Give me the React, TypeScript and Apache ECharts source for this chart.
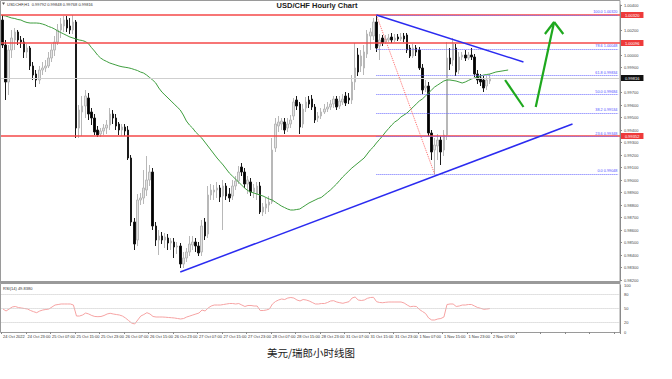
import React, { useEffect, useRef } from 'react';
import * as echarts from 'echarts';

// ---------- DATA ----------
const opens = [
  1.00280, 1.00080, 0.99784, 1.00040, 1.00120, 1.00184, 1.00120, 1.00104, 1.00024, 1.00056,
  0.99912, 0.99848, 0.99800, 0.99880, 0.99896, 0.99912, 0.99976, 1.00040, 1.00104, 1.00200,
  1.00232, 1.00280, 1.00232, 1.00200, 1.00264, 0.99416, 0.99544, 0.99592, 0.99656, 0.99544,
  0.99496, 0.99400, 0.99368, 0.99392, 0.99416, 0.99440, 0.99528, 0.99496, 0.99448, 0.99400,
  0.99424, 0.99400, 0.99176, 0.98664, 0.98520, 0.98840, 0.98856, 0.98920, 0.99000, 0.99064,
  0.98632, 0.98520, 0.98552, 0.98520, 0.98536, 0.98496, 0.98504, 0.98464, 0.98472, 0.98328,
  0.98376, 0.98424, 0.98480, 0.98504, 0.98472, 0.98424, 0.98664, 0.98568, 0.98880, 0.98904,
  0.98920, 0.98936, 0.98872, 0.98952, 0.98888, 0.98872, 0.98952, 0.98992, 0.99104, 0.99064,
  0.98968, 0.98984, 0.98904, 0.98888, 0.98952, 0.98744, 0.98776, 0.98800, 0.98824, 0.99256,
  0.99432, 0.99448, 0.99464, 0.99416, 0.99448, 0.99512, 0.99640, 0.99608, 0.99448, 0.99576,
  0.99640, 0.99648, 0.99584, 0.99496, 0.99512, 0.99544, 0.99568, 0.99584, 0.99608, 0.99648,
  0.99592, 0.99624, 0.99672, 0.99656, 0.99640, 0.99784, 1.00000, 0.99912, 0.99896, 1.00008,
  1.00152, 1.00152, 1.00264, 1.00072, 1.00136, 1.00104, 1.00120, 1.00144, 1.00120, 1.00144,
  1.00128, 1.00152, 1.00160, 1.00056, 0.99992, 1.00056, 1.00040, 0.99896, 0.99736, 0.99752,
  0.99376, 0.99240, 0.99272, 0.99320, 0.99240, 0.99360, 0.99976, 0.99960, 1.00056, 0.99880,
  0.99984, 1.00000, 0.99976, 1.00000, 0.99984, 0.99848, 0.99816, 0.99800, 0.99752, 0.99792,
];
const closes = [
  1.00080, 0.99784, 1.00040, 1.00136, 1.00184, 1.00120, 1.00104, 1.00024, 1.00056, 0.99912,
  0.99840, 0.99800, 0.99880, 0.99896, 0.99912, 0.99976, 1.00040, 1.00104, 1.00200, 1.00248,
  1.00280, 1.00216, 1.00200, 1.00264, 0.99416, 0.99560, 0.99592, 0.99672, 0.99528, 0.99496,
  0.99384, 0.99360, 0.99392, 0.99416, 0.99440, 0.99528, 0.99496, 0.99432, 0.99400, 0.99424,
  0.99392, 0.99176, 0.98664, 0.98488, 0.98840, 0.98856, 0.98936, 0.99000, 0.99064, 0.98632,
  0.98520, 0.98552, 0.98520, 0.98544, 0.98496, 0.98512, 0.98464, 0.98472, 0.98328, 0.98376,
  0.98424, 0.98488, 0.98504, 0.98472, 0.98416, 0.98632, 0.98552, 0.98880, 0.98920, 0.98920,
  0.98936, 0.98864, 0.98952, 0.98872, 0.98856, 0.98952, 0.98992, 0.99064, 0.99064, 0.98968,
  0.99000, 0.98904, 0.98936, 0.98952, 0.98744, 0.98784, 0.98808, 0.98824, 0.99240, 0.99448,
  0.99464, 0.99472, 0.99400, 0.99448, 0.99480, 0.99624, 0.99592, 0.99424, 0.99568, 0.99624,
  0.99608, 0.99584, 0.99480, 0.99512, 0.99544, 0.99568, 0.99584, 0.99608, 0.99648, 0.99584,
  0.99632, 0.99648, 0.99616, 0.99640, 0.99784, 0.99896, 0.99864, 0.99992, 1.00024, 1.00168,
  1.00184, 1.00264, 1.00056, 1.00120, 1.00096, 1.00128, 1.00136, 1.00120, 1.00136, 1.00128,
  1.00144, 1.00128, 1.00040, 0.99992, 1.00056, 1.00024, 0.99896, 0.99720, 0.99752, 0.99376,
  0.99224, 0.99280, 0.99320, 0.99224, 0.99360, 0.99976, 0.99928, 1.00088, 0.99864, 0.99984,
  1.00000, 0.99976, 1.00000, 0.99984, 0.99848, 0.99800, 0.99784, 0.99736, 0.99800, 0.99816,
];
const lows = [
  1.00056, 0.99640, 0.99680, 0.99976, 1.00040, 1.00080, 1.00056, 0.99976, 0.99976, 0.99880,
  0.99800, 0.99744, 0.99768, 0.99840, 0.99864, 0.99896, 0.99944, 0.99992, 1.00080, 1.00136,
  1.00184, 1.00184, 1.00168, 1.00168, 0.99336, 0.99336, 0.99352, 0.99496, 0.99480, 0.99440,
  0.99360, 0.99344, 0.99344, 0.99360, 0.99368, 0.99400, 0.99448, 0.99400, 0.99360, 0.99352,
  0.99352, 0.99160, 0.98632, 0.98440, 0.98472, 0.98800, 0.98808, 0.98872, 0.98952, 0.98600,
  0.98472, 0.98400, 0.98488, 0.98456, 0.98440, 0.98440, 0.98376, 0.98408, 0.98296, 0.98296,
  0.98344, 0.98392, 0.98440, 0.98424, 0.98392, 0.98392, 0.98520, 0.98536, 0.98840, 0.98840,
  0.98856, 0.98824, 0.98600, 0.98840, 0.98824, 0.98840, 0.98920, 0.98968, 0.99032, 0.98936,
  0.98888, 0.98872, 0.98856, 0.98840, 0.98728, 0.98712, 0.98728, 0.98744, 0.98808, 0.99224,
  0.99384, 0.99400, 0.99368, 0.99384, 0.99416, 0.99480, 0.99560, 0.99368, 0.99416, 0.99544,
  0.99576, 0.99560, 0.99456, 0.99464, 0.99488, 0.99528, 0.99544, 0.99560, 0.99576, 0.99560,
  0.99568, 0.99600, 0.99592, 0.99608, 0.99608, 0.99720, 0.99832, 0.99864, 0.99840, 0.99976,
  1.00040, 1.00120, 1.00024, 0.99960, 1.00072, 1.00088, 1.00104, 1.00096, 1.00104, 1.00112,
  1.00112, 1.00104, 1.00016, 0.99976, 0.99976, 0.99992, 0.99880, 0.99688, 0.99704, 0.99352,
  0.99160, 0.99048, 0.99160, 0.99120, 0.99192, 0.99320, 0.99880, 0.99912, 0.99832, 0.99848,
  0.99960, 0.99952, 0.99960, 0.99960, 0.99824, 0.99768, 0.99752, 0.99704, 0.99720, 0.99768,
];
const highs = [
  1.00320, 1.00120, 1.00080, 1.00200, 1.00216, 1.00200, 1.00152, 1.00136, 1.00088, 1.00072,
  0.99944, 0.99880, 0.99912, 0.99944, 0.99960, 1.00024, 1.00088, 1.00152, 1.00248, 1.00296,
  1.00312, 1.00312, 1.00296, 1.00320, 1.00280, 0.99600, 0.99672, 0.99720, 0.99696, 0.99576,
  0.99528, 0.99432, 0.99416, 0.99448, 0.99480, 0.99576, 0.99560, 0.99528, 0.99464, 0.99448,
  0.99448, 0.99432, 0.99200, 0.98696, 0.98888, 0.98896, 0.99080, 0.99192, 0.99120, 0.99096,
  0.98664, 0.98600, 0.98584, 0.98576, 0.98568, 0.98536, 0.98536, 0.98504, 0.98496, 0.98424,
  0.98456, 0.98552, 0.98552, 0.98536, 0.98504, 0.98680, 0.98696, 0.98952, 0.98968, 0.98960,
  0.98984, 0.98960, 0.99000, 0.98976, 0.98936, 0.99000, 0.99032, 0.99112, 0.99136, 0.99096,
  0.99032, 0.99016, 0.98968, 0.98984, 0.98984, 0.98816, 0.98856, 0.98872, 0.99336, 0.99496,
  0.99512, 0.99496, 0.99496, 0.99496, 0.99520, 0.99656, 0.99672, 0.99624, 0.99608, 0.99664,
  0.99672, 0.99680, 0.99608, 0.99544, 0.99576, 0.99608, 0.99624, 0.99640, 0.99672, 0.99672,
  0.99672, 0.99688, 0.99704, 0.99696, 0.99840, 1.00096, 1.00056, 1.00040, 1.00080, 1.00200,
  1.00216, 1.00296, 1.00320, 1.00168, 1.00160, 1.00160, 1.00168, 1.00176, 1.00168, 1.00168,
  1.00176, 1.00176, 1.00176, 1.00080, 1.00088, 1.00080, 1.00064, 0.99928, 0.99800, 0.99784,
  0.99400, 0.99336, 0.99368, 0.99352, 0.99400, 1.00104, 1.00056, 1.00136, 1.00088, 1.00024,
  1.00024, 1.00040, 1.00024, 1.00056, 1.00008, 0.99880, 0.99848, 0.99832, 0.99832, 0.99848,
];
// shifted moving average (green)
const maValues = [
  1.00316, 1.00312, 1.00304, 1.00296, 1.00292, 1.00284, 1.00280, 1.00268, 1.00260, 1.00256,
  1.00256, 1.00256, 1.00254, 1.00248, 1.00240, 1.00228, 1.00220, 1.00208, 1.00192, 1.00180,
  1.00168, 1.00156, 1.00144, 1.00136, 1.00128, 1.00120, 1.00116, 1.00108, 1.00092, 1.00060,
  1.00032, 1.00000, 0.99976, 0.99960, 0.99948, 0.99936, 0.99928, 0.99920, 0.99912, 0.99906,
  0.99902, 0.99898, 0.99892, 0.99884, 0.99876, 0.99864, 0.99856, 0.99840, 0.99820, 0.99800,
  0.99776, 0.99736, 0.99704, 0.99680, 0.99656, 0.99632, 0.99608, 0.99584, 0.99560, 0.99520,
  0.99472, 0.99440, 0.99416, 0.99384, 0.99360, 0.99336, 0.99304, 0.99272, 0.99240, 0.99208,
  0.99176, 0.99148, 0.99120, 0.99088, 0.99056, 0.99032, 0.99008, 0.98984, 0.98960, 0.98936,
  0.98916, 0.98904, 0.98896, 0.98888, 0.98880, 0.98872, 0.98860, 0.98848, 0.98840, 0.98824,
  0.98808, 0.98792, 0.98780, 0.98768, 0.98760, 0.98760, 0.98764, 0.98768, 0.98784, 0.98800,
  0.98816, 0.98828, 0.98840, 0.98852, 0.98860, 0.98880, 0.98900, 0.98920, 0.98944, 0.98968,
  0.98996, 0.99024, 0.99048, 0.99072, 0.99096, 0.99116, 0.99136, 0.99156, 0.99176, 0.99208,
  0.99240, 0.99264, 0.99296, 0.99324, 0.99352, 0.99384, 0.99412, 0.99440, 0.99464, 0.99480,
  0.99504, 0.99520, 0.99536, 0.99560, 0.99584, 0.99608, 0.99632, 0.99648, 0.99672, 0.99696,
  0.99720, 0.99744, 0.99760, 0.99776, 0.99792, 0.99800, 0.99800, 0.99796, 0.99792, 0.99784,
  0.99776, 0.99784, 0.99796, 0.99808, 0.99816, 0.99824, 0.99832, 0.99840, 0.99844, 0.99848,
  0.99856, 0.99864, 0.99868, 0.99872, 0.99876, 0.99880,
];
const rsiValues = [
  48.9, 44.7, 48.9, 53.2, 54.3, 52.1, 51.1, 50.0, 48.9, 45.7,
  43.2, 41.1, 44.7, 46.8, 47.9, 48.9, 53.2, 57.4, 58.5, 59.6,
  59.6, 59.6, 59.6, 57.4, 34.0, 34.0, 36.2, 40.4, 38.3, 35.1,
  33.0, 32.6, 33.0, 35.1, 38.3, 39.8, 38.3, 37.2, 36.2, 34.0,
  29.8, 24.5, 19.1, 17.0, 25.5, 34.0, 37.2, 41.1, 38.3, 33.0,
  31.9, 31.9, 31.9, 31.5, 30.9, 30.4, 29.8, 28.7, 27.7, 28.7,
  31.9, 34.0, 36.2, 38.3, 40.4, 46.8, 44.7, 51.1, 55.3, 57.4,
  57.4, 57.4, 58.5, 59.6, 60.6, 60.6, 59.6, 60.6, 57.4, 54.3,
  56.4, 56.4, 55.3, 55.3, 45.7, 45.7, 46.8, 48.9, 59.6, 64.9,
  68.1, 70.2, 69.1, 72.3, 73.4, 72.3, 68.1, 66.0, 69.1, 68.1,
  66.0, 62.8, 59.6, 59.6, 60.6, 60.6, 62.8, 66.0, 66.6, 63.8,
  62.3, 61.1, 62.8, 64.5, 72.3, 74.5, 68.1, 67.0, 68.1, 71.7,
  73.4, 73.8, 64.5, 62.8, 62.3, 63.2, 63.8, 63.8, 63.8, 63.8,
  63.8, 61.7, 57.4, 53.8, 54.7, 54.3, 47.9, 43.6, 39.4, 29.8,
  25.5, 25.5, 27.7, 28.7, 31.9, 58.5, 59.6, 59.6, 54.3, 55.3,
  57.4, 57.4, 58.5, 58.5, 55.3, 52.1, 50.4, 48.3, 48.9, 49.8,
];
const timeLabels = [
  '24 Oct 2022', '24 Oct 23:00', '25 Oct 07:00', '25 Oct 15:00', '25 Oct 23:00',
  '26 Oct 07:00', '26 Oct 15:00', '26 Oct 23:00', '27 Oct 07:00', '27 Oct 15:00',
  '27 Oct 23:00', '28 Oct 07:00', '28 Oct 15:00', '28 Oct 23:00', '31 Oct 07:00',
  '31 Oct 15:00', '31 Oct 23:00', '1 Nov 07:00', '1 Nov 15:00', '1 Nov 23:00', '2 Nov 07:00',
];
const barsPerLabel = 8;
const totalSlots = 202;

const redLevels = [1.00320, 1.00096, 0.99352];
const lastPrice = 0.99816;
const fibLevels = [100, 78.6, 61.8, 50, 38.2, 23.6, 0];
const fibPrices = [1.00320, 1.00048, 0.99834, 0.99684, 0.99534, 0.99348, 0.99048];
const fibHigh: [number, number] = [122, 1.00320];
const fibLow: [number, number] = [141, 0.99048];
const downTrend: [number, number][] = [[122, 1.00320], [170, 0.99944]];
const upTrend: [number, number][] = [[58, 0.98264], [186, 0.99448]];
const arrowDown: [number, number][] = [[164, 0.99800], [170, 0.99584]];
const arrowUp: [number, number][] = [[174, 0.99584], [180, 1.00264]];
const arrowHeadLeft: [number, number][] = [[177, 1.00168], [180, 1.00264]];
const arrowHeadRight: [number, number][] = [[180, 1.00264], [183, 1.00168]];
const rsiLevels = [80, 50, 20];
const rsiAxisLabels = [0, 20, 50, 80, 100];

export default function App() {
  const ref = useRef<HTMLDivElement>(null);

  useEffect(() => {
    if (!ref.current) return;
    const chart = echarts.init(ref.current, null, { renderer: 'svg' });

    const categories = Array.from({ length: totalSlots }, (_, i) => String(i));
    const candles = opens.map((o, i) => [o, closes[i], lows[i], highs[i]]);
    const font = 'Liberation Sans';
    const boxedLevels = redLevels.concat([lastPrice]);

    const seg = (a: [number, number], b: [number, number], color: string, width: number, type: string) => [
      { coord: a, lineStyle: { color, width, type } },
      { coord: b },
    ];

    const markData: any[] = [];
    markData.push({
      yAxis: lastPrice,
      lineStyle: { color: '#cfcfcf', width: 1, type: 'solid' },
      label: {
        show: true, position: 'end', formatter: lastPrice.toFixed(5), color: '#fff',
        backgroundColor: '#111', fontSize: 4, padding: [1, 4], distance: 1, fontFamily: font,
      },
    });
    redLevels.forEach((v) => {
      markData.push({
        yAxis: v,
        lineStyle: { color: '#f44848', width: 1.6, type: 'solid' },
        label: {
          show: true, position: 'end', formatter: v.toFixed(5), color: '#fff',
          backgroundColor: '#ee3a3a', fontSize: 4, padding: [1, 4], distance: 1, fontFamily: font,
        },
      });
    });
    fibPrices.forEach((p, k) => {
      markData.push([
        {
          coord: [fibHigh[0], p],
          lineStyle: { color: '#6a6aff', width: 1, type: 'dotted' },
          label: {
            show: true, position: 'insideEndTop', formatter: `${fibLevels[k].toFixed(1)} ${p.toFixed(5)}`,
            color: '#5050ff', fontSize: 3.8, distance: 1, fontFamily: font,
          },
        },
        { coord: [totalSlots - 1, p] },
      ]);
    });
    markData.push(seg(fibHigh, fibLow, '#ff6a6a', 1, 'dotted'));
    markData.push(seg(downTrend[0], downTrend[1], '#2b2bf0', 1.5, 'solid'));
    markData.push(seg(upTrend[0], upTrend[1], '#2b2bf0', 1.5, 'solid'));
    const green = '#1ea81e';
    markData.push(seg(arrowDown[0], arrowDown[1], green, 2.2, 'solid'));
    markData.push(seg(arrowUp[0], arrowUp[1], green, 2.2, 'solid'));
    markData.push(seg(arrowHeadLeft[0], arrowHeadLeft[1], green, 2.2, 'solid'));
    markData.push(seg(arrowHeadRight[0], arrowHeadRight[1], green, 2.2, 'solid'));

    const option: any = {
      animation: false,
      backgroundColor: '#ffffff',
      grid: [
        { left: 1, right: 52, top: 5, height: 275 },
        { left: 1, right: 52, top: 285, height: 47 },
      ],
      xAxis: [
        {
          type: 'category', gridIndex: 0, data: categories, boundaryGap: true,
          axisLine: { show: false }, axisTick: { show: false }, axisLabel: { show: false }, splitLine: { show: false },
        },
        {
          type: 'category', gridIndex: 1, data: categories, boundaryGap: true,
          axisLine: { show: false },
          axisTick: { show: true, interval: barsPerLabel - 1, length: 2, lineStyle: { color: '#888' } },
          axisLabel: {
            show: true, interval: barsPerLabel - 1, fontSize: 4, color: '#333', margin: 2, align: 'left',
            fontFamily: font,
            formatter: (_v: string, idx: number) => {
              if (idx % barsPerLabel !== 0) return '';
              const k = idx / barsPerLabel;
              return k < timeLabels.length ? timeLabels[k] : '';
            },
          },
          splitLine: { show: false },
        },
      ],
      yAxis: [
        {
          type: 'value', gridIndex: 0, position: 'right', min: 0.982, max: 1.004, interval: 0.001,
          axisLine: { show: true, lineStyle: { color: '#8a8a8a' } },
          axisTick: { show: true, length: 2, lineStyle: { color: '#8a8a8a' } },
          axisLabel: {
            fontSize: 4, color: '#444', margin: 4, fontFamily: font,
            formatter: (v: number) =>
              boxedLevels.some((b) => Math.abs(b - v) < 0.00045) ? '' : v.toFixed(5),
          },
          splitLine: { show: false },
        },
        {
          type: 'value', gridIndex: 1, position: 'right', min: 0, max: 100, interval: 10,
          axisLine: { show: true, lineStyle: { color: '#8a8a8a' } },
          axisTick: { show: false },
          axisLabel: {
            fontSize: 4, color: '#444', margin: 4, fontFamily: font,
            formatter: (v: number) => (rsiAxisLabels.indexOf(Math.round(v)) >= 0 ? String(Math.round(v)) : ''),
          },
          splitLine: { show: false },
        },
      ],
      series: [
        {
          type: 'candlestick', xAxisIndex: 0, yAxisIndex: 0, data: candles, barWidth: 2,
          itemStyle: {
            color: '#e4e4e4', borderColor: '#b8b8b8', color0: '#000000', borderColor0: '#1a1a1a', borderWidth: 1,
          },
          markLine: {
            silent: true, symbol: ['none', 'none'], animation: false, z: 5, precision: 6,
            label: { show: false }, data: markData,
          },
        },
        {
          type: 'line', xAxisIndex: 0, yAxisIndex: 0, data: maValues, symbol: 'none', showSymbol: false,
          lineStyle: { color: '#3f9e3f', width: 1 }, z: 4,
        },
        {
          type: 'line', xAxisIndex: 1, yAxisIndex: 1, data: rsiValues, symbol: 'none', showSymbol: false,
          lineStyle: { color: '#f6a3a3', width: 1 },
          markLine: {
            silent: true, symbol: ['none', 'none'], animation: false, label: { show: false }, precision: 2,
            lineStyle: { color: '#c6c6c6', width: 1, type: 'dotted' },
            data: rsiLevels.map((v) => ({ yAxis: v })),
          },
        },
      ],
      graphic: [
        { type: 'rect', shape: { x: 0.5, y: 0.5, width: 619.5, height: 281 }, style: { fill: 'none', stroke: '#9a9a9a', lineWidth: 1 }, silent: true },
        { type: 'rect', shape: { x: 0, y: 281, width: 620.5, height: 2.5 }, style: { fill: '#9a9a9a' }, silent: true },
        { type: 'rect', shape: { x: 0.5, y: 283.5, width: 619.5, height: 49 }, style: { fill: 'none', stroke: '#9a9a9a', lineWidth: 1 }, silent: true },
        { type: 'polygon', shape: { points: [[2, 2.5], [5, 2.5], [3.5, 5]] }, style: { fill: '#555' }, silent: true },
        {
          type: 'text', x: 7, y: 4, silent: true,
          style: { text: 'USDCHF,H1  0.99792 0.99848 0.99768 0.99816', fontSize: 4, fill: '#333', fontFamily: font, textVerticalAlign: 'middle' },
        },
        {
          type: 'text', x: 317, y: 5.5, silent: true,
          style: { text: 'USD/CHF Hourly Chart', fontSize: 7.5, fontWeight: 'bold', fill: '#222', fontFamily: font, textAlign: 'center', textVerticalAlign: 'middle' },
        },
        {
          type: 'text', x: 3, y: 288, silent: true,
          style: { text: 'RSI(14) 49.8380', fontSize: 4, fill: '#333', fontFamily: font, textVerticalAlign: 'middle' },
        },
        {
          type: 'text', x: 311, y: 352.5, silent: true,
          style: { text: '美元/瑞郎小时线图', fontSize: 10.5, fill: '#222', fontFamily: 'Noto Sans CJK SC', textAlign: 'center', textVerticalAlign: 'middle' },
        },
      ],
    };

    chart.setOption(option);
    return () => chart.dispose();
  }, []);

  return (
    <div
      ref={ref}
      style={{ position: 'absolute', left: 0, top: 0, width: 672, height: 379, background: '#fff' }}
    />
  );
}
